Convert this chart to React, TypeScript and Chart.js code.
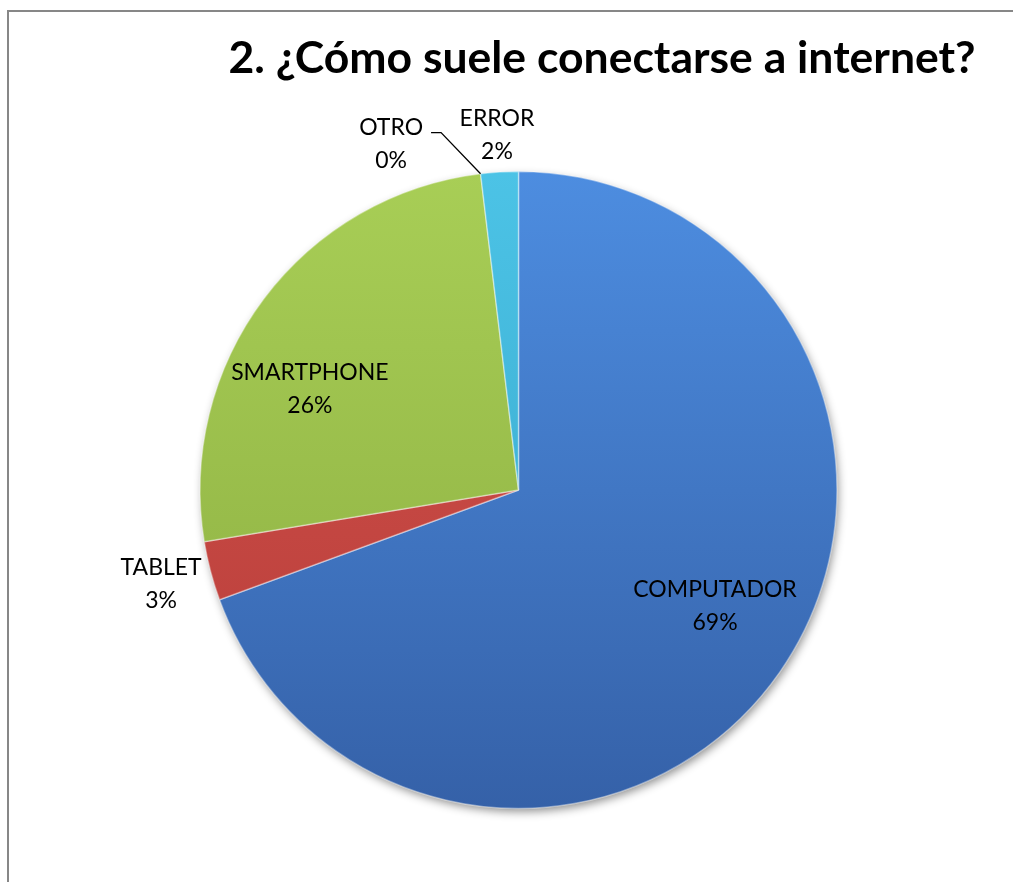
import React, { useEffect, useRef } from "react";
import { Chart, registerables } from "chart.js";

Chart.register(...registerables);

const TITLE = "2. ¿Cómo suele conectarse a internet?";
const CATEGORIES = ["COMPUTADOR", "TABLET", "SMARTPHONE", "OTRO", "ERROR"];
const VALUES = [69.4, 3.0, 25.7, 0.0, 1.9];
const COLORS_TOP = ["#4d8de0", "#d4534d", "#a8ce56", "#888888", "#4cc3e6"];
const COLORS_BOTTOM = ["#3561a8", "#b63c38", "#8bad40", "#666666", "#34a4c8"];

// label block centers relative to pie center, in units of the radius
const LABEL_ANCHORS = [
  { dx: 0.617, dy: 0.366, leader: false },
  { dx: -1.122, dy: 0.294, leader: false },
  { dx: -0.655, dy: -0.317, leader: false },
  { dx: -0.4, dy: -1.086, leader: true },
  { dx: -0.0675, dy: -1.115, leader: false },
];

const FONT = "Lato, 'Open Sans', sans-serif";

const framePlugin = {
  id: "frameAndTitle",
  beforeDraw(chart: any) {
    const ctx = chart.ctx;
    ctx.save();
    ctx.fillStyle = "#ffffff";
    ctx.fillRect(0, 0, chart.width, chart.height);
    ctx.strokeStyle = "#878787";
    ctx.lineWidth = 2;
    ctx.beginPath();
    ctx.moveTo(8, chart.height + 10);
    ctx.lineTo(8, 11);
    ctx.lineTo(chart.width + 10, 11);
    ctx.stroke();
    ctx.fillStyle = "#000000";
    ctx.font = `bold 44.5px ${FONT}`;
    ctx.textAlign = "center";
    ctx.textBaseline = "alphabetic";
    ctx.fillText(TITLE, 602, 73);
    ctx.restore();
  },
  beforeDatasetsDraw(chart: any) {
    const meta = chart.getDatasetMeta(0);
    const arc = meta.data[0];
    if (!arc) return;
    const ctx = chart.ctx;
    ctx.save();
    ctx.shadowColor = "rgba(0,0,0,0.45)";
    ctx.shadowBlur = 10;
    ctx.shadowOffsetX = 2;
    ctx.shadowOffsetY = 4;
    ctx.fillStyle = "#ffffff";
    ctx.beginPath();
    ctx.arc(arc.x, arc.y, arc.outerRadius - 1, 0, Math.PI * 2);
    ctx.fill();
    ctx.restore();
  },
  afterDatasetsDraw(chart: any) {
    const meta = chart.getDatasetMeta(0);
    const ctx = chart.ctx;
    const data = chart.data.datasets[0].data as number[];
    const total = data.reduce((a, b) => a + b, 0);
    ctx.save();
    ctx.font = `23px ${FONT}`;
    ctx.fillStyle = "#000000";
    ctx.textAlign = "center";
    ctx.textBaseline = "middle";
    meta.data.forEach((el: any, i: number) => {
      const a = LABEL_ANCHORS[i];
      const R = el.outerRadius;
      const cx = el.x + a.dx * R;
      const cy = el.y + a.dy * R;
      const pct = Math.round((data[i] / total) * 100) + "%";
      const y1 = cy - 16.5;
      const y2 = cy + 16.5;
      ctx.fillText(chart.data.labels[i], cx, y1);
      ctx.fillText(pct, cx, y2);
      if (a.leader) {
        const w = ctx.measureText(chart.data.labels[i]).width;
        const sx = cx + w / 2 + 8;
        const sy = y1 + 5;
        const ang = el.startAngle;
        const ex = el.x + Math.cos(ang) * R;
        const ey = el.y + Math.sin(ang) * R;
        ctx.strokeStyle = "#000000";
        ctx.lineWidth = 1.3;
        ctx.beginPath();
        ctx.moveTo(sx, sy);
        ctx.lineTo(sx + 10, sy);
        ctx.lineTo(ex, ey);
        ctx.stroke();
      }
    });
    ctx.restore();
  },
};

export default function App() {
  const ref = useRef<HTMLCanvasElement | null>(null);
  useEffect(() => {
    if (!ref.current) return;
    const chart = new Chart(ref.current, {
      type: "pie",
      data: {
        labels: CATEGORIES,
        datasets: [
          {
            data: VALUES,
            backgroundColor: (c: any) => {
              const chart = c.chart;
              const area = chart.chartArea;
              const i = c.dataIndex ?? 0;
              if (!area) return COLORS_TOP[i];
              const g = chart.ctx.createLinearGradient(0, area.top, 0, area.bottom);
              g.addColorStop(0, COLORS_TOP[i]);
              g.addColorStop(1, COLORS_BOTTOM[i]);
              return g;
            },
            borderColor: "rgba(255,255,255,0.4)",
            borderWidth: 1.5,
          },
        ],
      },
      options: {
        animation: false,
        responsive: false,
        devicePixelRatio: 1,
        radius: 318.5,
        layout: { padding: { left: 200, right: 176, top: 171.5, bottom: 73.5 } },
        plugins: {
          legend: { display: false },
          title: { display: false },
          tooltip: { enabled: false },
        },
      },
      plugins: [framePlugin],
    });
    return () => chart.destroy();
  }, []);
  return (
    <div style={{ position: "fixed", left: 0, top: 0, width: 1013, height: 882 }}>
      <canvas ref={ref} width={1013} height={882} style={{ display: "block" }} />
    </div>
  );
}
